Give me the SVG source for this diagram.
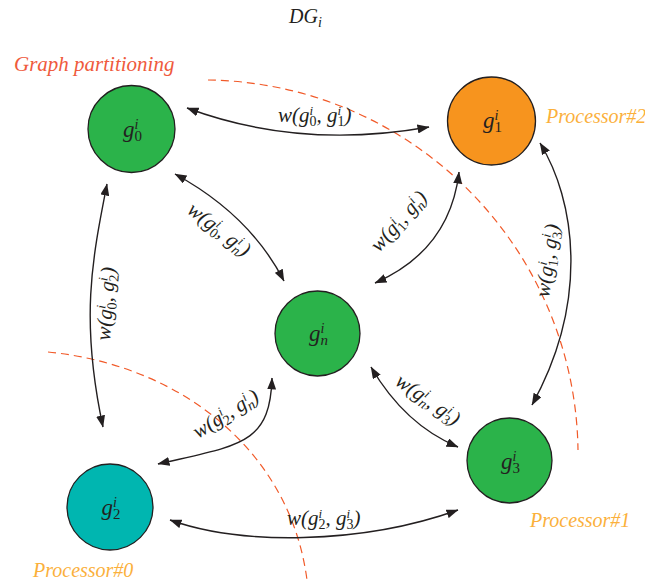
<svg xmlns="http://www.w3.org/2000/svg" width="645" height="584" viewBox="0 0 645 584">
  <style>
    .node { stroke: #231f20; stroke-width: 1.3; }
    .green { fill: #2bb34a; }
    .orange { fill: #f7941e; }
    .teal { fill: #00b6b0; }
    .edge { fill: none; stroke: #231f20; stroke-width: 1.4; marker-start: url(#ah); marker-end: url(#ah); }
    .cut { fill: none; stroke: #f15a29; stroke-width: 1.2; stroke-dasharray: 8 5; }
    text { font-family: "Liberation Serif", "Times New Roman", serif; font-style: italic; fill: #231f20; }
    .lbl { font-size: 21px; }
    .nlbl { font-size: 23px; }
    .sup { font-size: 13px; }
    .sub { font-size: 14px; font-style: normal; }
    .subv { font-size: 14px; }
    .nsup { font-size: 14px; }
    .nsub { font-size: 15px; font-style: normal; }
    .nsubv { font-size: 15px; }
    .proc { font-size: 20px; fill: #fbb03b; }
    .part { font-size: 21px; fill: #ef5a3c; }
  </style>
  <defs>
    <marker id="ah" viewBox="0 0 12 9" refX="11.5" refY="4.5" markerWidth="12" markerHeight="9" markerUnits="userSpaceOnUse" orient="auto-start-reverse">
      <path d="M0,0 L12,4.5 L0,9 z" fill="#231f20"/>
    </marker>
  </defs>

  <!-- title -->
  <text x="289" y="23" font-size="20">DG<tspan font-size="14" dy="4">i</tspan></text>

  <!-- partition boundaries -->
  <g id="partitions">
    <path class="cut" d="M208,80 A375,375 0 0 1 578,450"/>
    <path class="cut" d="M48,352 C180,365 290,450 307,580"/>
  </g>

  <!-- weighted connectors -->
  <g id="connectors">
    <path class="edge" d="M187,108 Q300,150 429,127"/>
    <path class="edge" d="M175,174 Q250,215 284,281"/>
    <path class="edge" d="M459,172 Q450,250 375,283"/>
    <path class="edge" d="M540,143 C575,200 590,300 532,405"/>
    <path class="edge" d="M107,184 C92,260 80,320 103,427"/>
    <path class="edge" d="M158,464 C240,445 270,445 272,378"/>
    <path class="edge" d="M371,367 Q405,425 458,447"/>
    <path class="edge" d="M170,520 C240,545 360,545 458,510"/>

    <text class="lbl" x="278" y="122">w(g<tspan class="sup" dy="-7">i</tspan><tspan class="sub" dx="-3.6" dy="11">0</tspan><tspan dy="-4">, g</tspan><tspan class="sup" dy="-7">i</tspan><tspan class="sub" dx="-3.6" dy="11">1</tspan><tspan dy="-4">)</tspan></text>
    <text class="lbl" transform="translate(186,212) rotate(38)">w(g<tspan class="sup" dy="-7">i</tspan><tspan class="sub" dx="-3.6" dy="11">0</tspan><tspan dy="-4">, g</tspan><tspan class="sup" dy="-7">i</tspan><tspan class="subv" dx="-3.6" dy="11">n</tspan><tspan dy="-4">)</tspan></text>
    <text class="lbl" transform="translate(379,253) rotate(-48)">w(g<tspan class="sup" dy="-7">i</tspan><tspan class="sub" dx="-3.6" dy="11">1</tspan><tspan dy="-4">, g</tspan><tspan class="sup" dy="-7">i</tspan><tspan class="subv" dx="-3.6" dy="11">n</tspan><tspan dy="-4">)</tspan></text>
    <text class="lbl" transform="translate(549,298) rotate(-82)">w(g<tspan class="sup" dy="-7">i</tspan><tspan class="sub" dx="-3.6" dy="11">1</tspan><tspan dy="-4">, g</tspan><tspan class="sup" dy="-7">i</tspan><tspan class="sub" dx="-3.6" dy="11">3</tspan><tspan dy="-4">)</tspan></text>
    <text class="lbl" transform="translate(110,341) rotate(-86)">w(g<tspan class="sup" dy="-7">i</tspan><tspan class="sub" dx="-3.6" dy="11">0</tspan><tspan dy="-4">, g</tspan><tspan class="sup" dy="-7">i</tspan><tspan class="sub" dx="-3.6" dy="11">2</tspan><tspan dy="-4">)</tspan></text>
    <text class="lbl" transform="translate(198,439) rotate(-32)">w(g<tspan class="sup" dy="-7">i</tspan><tspan class="sub" dx="-3.6" dy="11">2</tspan><tspan dy="-4">, g</tspan><tspan class="sup" dy="-7">i</tspan><tspan class="subv" dx="-3.6" dy="11">n</tspan><tspan dy="-4">)</tspan></text>
    <text class="lbl" transform="translate(394,384) rotate(35)">w(g<tspan class="sup" dy="-7">i</tspan><tspan class="subv" dx="-3.6" dy="11">n</tspan><tspan dy="-4">, g</tspan><tspan class="sup" dy="-7">i</tspan><tspan class="sub" dx="-3.6" dy="11">3</tspan><tspan dy="-4">)</tspan></text>
    <text class="lbl" x="287" y="525">w(g<tspan class="sup" dy="-7">i</tspan><tspan class="sub" dx="-3.6" dy="11">2</tspan><tspan dy="-4">, g</tspan><tspan class="sup" dy="-7">i</tspan><tspan class="sub" dx="-3.6" dy="11">3</tspan><tspan dy="-4">)</tspan></text>
  </g>

  <!-- graph nodes -->
  <g id="node-g0">
    <circle class="node green" cx="131.5" cy="129" r="43.5"/>
    <text class="nlbl" x="123" y="137">g<tspan class="nsup" dy="-8">i</tspan><tspan class="nsub" dx="-3.9" dy="12">0</tspan></text>
  </g>
  <g id="node-g1">
    <circle class="node orange" cx="491.5" cy="121" r="44"/>
    <text class="nlbl" x="483" y="128">g<tspan class="nsup" dy="-8">i</tspan><tspan class="nsub" dx="-3.9" dy="12">1</tspan></text>
  </g>
  <g id="node-gn">
    <circle class="node green" cx="317.5" cy="333.5" r="42.5"/>
    <text class="nlbl" x="309" y="341">g<tspan class="nsup" dy="-8">i</tspan><tspan class="nsubv" dx="-3.9" dy="12">n</tspan></text>
  </g>
  <g id="node-g2">
    <circle class="node teal" cx="110" cy="507" r="43"/>
    <text class="nlbl" x="101.5" y="515">g<tspan class="nsup" dy="-8">i</tspan><tspan class="nsub" dx="-3.9" dy="12">2</tspan></text>
  </g>
  <g id="node-g3">
    <circle class="node green" cx="509.5" cy="460.5" r="42.5"/>
    <text class="nlbl" x="501" y="469">g<tspan class="nsup" dy="-8">i</tspan><tspan class="nsub" dx="-3.9" dy="12">3</tspan></text>
  </g>

  <!-- annotations -->
  <text class="part" x="14" y="71">Graph partitioning</text>
  <text class="proc" x="546" y="123">Processor#2</text>
  <text class="proc" x="530" y="527">Processor#1</text>
  <text class="proc" x="33" y="577">Processor#0</text>
</svg>
